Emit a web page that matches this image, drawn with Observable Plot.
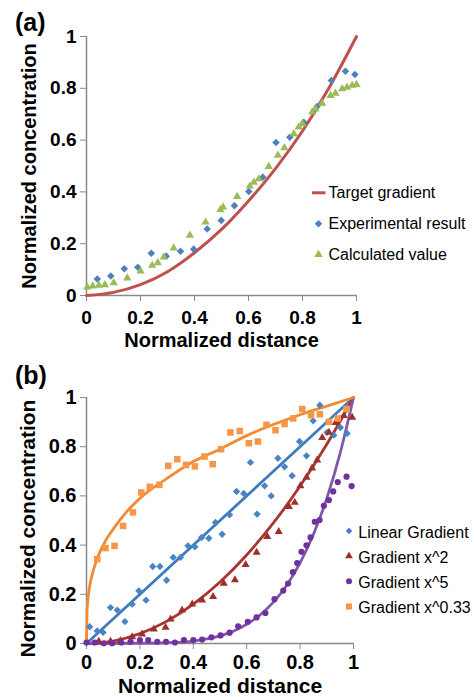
<!DOCTYPE html>
<html><head><meta charset="utf-8">
<script src="https://cdn.jsdelivr.net/npm/d3@7"></script>
<script src="https://cdn.jsdelivr.net/npm/@observablehq/plot@0.6"></script>
<style>
html,body{margin:0;padding:0;background:#fff;}
#fig{position:relative;width:474px;height:697px;overflow:hidden;font-family:"Liberation Sans",Arial,sans-serif;}
.panel{position:absolute;left:0;}
.tag{position:absolute;font-weight:bold;font-size:25px;line-height:25px;color:#000;}
.legend{position:absolute;left:0;top:0;pointer-events:none;}
#fig g[aria-label="x-axis tick"], #fig g[aria-label="y-axis tick"]{stroke:#8a8a8a;}
</style></head><body><div id="fig"></div>
<script>
// ---------- Panel (a) data ----------
const tickValues = [0, 0.2, 0.4, 0.6, 0.8, 1];
const axisTitleX = "Normalized distance";
const axisTitleY = "Normalized concentration";

const targetX = [0, 0.1, 0.2, 0.3, 0.4, 0.5, 0.6, 0.7, 0.8, 0.9, 1];
const targetY = [0, 0.012, 0.042, 0.092, 0.165, 0.255, 0.365, 0.49, 0.635, 0.805, 1];

const expX = [0.04, 0.09, 0.14, 0.19, 0.24, 0.295, 0.348, 0.397, 0.447, 0.499, 0.548, 0.601, 0.653, 0.702, 0.753, 0.805, 0.854, 0.907, 0.959, 0.994];
const expY = [0.064, 0.075, 0.103, 0.109, 0.163, 0.152, 0.171, 0.179, 0.257, 0.29, 0.347, 0.402, 0.457, 0.591, 0.611, 0.669, 0.73, 0.83, 0.866, 0.853];

const calcX = [0.003, 0.023, 0.046, 0.068, 0.101, 0.151, 0.2, 0.243, 0.264, 0.286, 0.323, 0.383, 0.441, 0.496, 0.506, 0.558, 0.605, 0.62, 0.638, 0.675, 0.709, 0.733, 0.768, 0.786, 0.8, 0.836, 0.848, 0.873, 0.904, 0.922, 0.947, 0.965, 0.984, 1.0];
const calcY = [0.032, 0.036, 0.039, 0.041, 0.049, 0.067, 0.094, 0.116, 0.126, 0.148, 0.183, 0.232, 0.283, 0.331, 0.341, 0.382, 0.422, 0.437, 0.45, 0.498, 0.541, 0.57, 0.624, 0.65, 0.663, 0.708, 0.721, 0.742, 0.772, 0.781, 0.798, 0.804, 0.811, 0.814];

const legendA = ["Target gradient", "Experimental result", "Calculated value"];

// ---------- Panel (b) data ----------
const linX = [0.012, 0.04, 0.062, 0.09, 0.115, 0.144, 0.171, 0.196, 0.223, 0.248, 0.275, 0.3, 0.325, 0.352, 0.38, 0.406, 0.431, 0.458, 0.483, 0.508, 0.536, 0.562, 0.589, 0.614, 0.639, 0.667, 0.692, 0.717, 0.742, 0.77, 0.798, 0.824, 0.849, 0.874, 0.901, 0.926, 0.951, 0.976];
const linY = [0.068, 0.051, 0.045, 0.146, 0.136, 0.089, 0.16, 0.214, 0.176, 0.313, 0.313, 0.257, 0.35, 0.35, 0.397, 0.393, 0.431, 0.428, 0.492, 0.444, 0.523, 0.618, 0.61, 0.736, 0.526, 0.641, 0.6, 0.753, 0.718, 0.682, 0.821, 0.763, 0.905, 0.969, 0.858, 0.847, 0.878, 0.854];

const sqX = [0.046, 0.09, 0.127, 0.171, 0.208, 0.252, 0.296, 0.315, 0.358, 0.396, 0.433, 0.474, 0.514, 0.556, 0.596, 0.637, 0.677, 0.72, 0.758, 0.78, 0.801, 0.824, 0.845, 0.864, 0.883, 0.908, 0.933, 0.964, 0.995];
const sqY = [0.008, 0.008, 0.011, 0.027, 0.038, 0.058, 0.065, 0.099, 0.136, 0.16, 0.176, 0.19, 0.244, 0.258, 0.32, 0.37, 0.434, 0.455, 0.556, 0.573, 0.641, 0.675, 0.713, 0.745, 0.837, 0.858, 0.898, 0.926, 0.919];

const p5X = [0.0, 0.031, 0.065, 0.096, 0.13, 0.165, 0.2, 0.231, 0.265, 0.298, 0.331, 0.365, 0.4, 0.433, 0.468, 0.502, 0.536, 0.568, 0.604, 0.637, 0.67, 0.704, 0.737, 0.755, 0.773, 0.789, 0.805, 0.824, 0.839, 0.855, 0.873, 0.889, 0.908, 0.924, 0.941, 0.974, 0.993];
const p5Y = [0.004, 0.004, 0.001, 0.001, 0.004, 0.007, 0.014, 0.014, 0.007, 0.007, 0.004, 0.014, 0.014, 0.016, 0.025, 0.033, 0.044, 0.07, 0.088, 0.106, 0.124, 0.18, 0.215, 0.244, 0.29, 0.327, 0.373, 0.399, 0.431, 0.495, 0.502, 0.56, 0.583, 0.618, 0.656, 0.678, 0.64];

const cbX = [0.04, 0.071, 0.105, 0.137, 0.174, 0.205, 0.237, 0.273, 0.306, 0.34, 0.373, 0.406, 0.442, 0.473, 0.504, 0.539, 0.574, 0.608, 0.642, 0.674, 0.708, 0.742, 0.774, 0.808, 0.841, 0.874, 0.908, 0.941, 0.974];
const cbY = [0.343, 0.388, 0.397, 0.478, 0.533, 0.614, 0.637, 0.645, 0.722, 0.749, 0.726, 0.72, 0.76, 0.729, 0.79, 0.858, 0.864, 0.814, 0.821, 0.889, 0.867, 0.892, 0.915, 0.953, 0.928, 0.932, 0.901, 0.915, 0.953];

const linLineX = [0, 1];
const linLineY = [0, 1];
const sqLineX = [0, 0.1, 0.2, 0.3, 0.4, 0.5, 0.6, 0.7, 0.8, 0.9, 1];
const sqLineY = [0, 0.01, 0.04, 0.09, 0.16, 0.25, 0.36, 0.49, 0.64, 0.81, 1];
const p5LineX = [0, 0.2, 0.3, 0.4, 0.5, 0.55, 0.6, 0.65, 0.7, 0.75, 0.8, 0.85, 0.9, 0.95, 1];
const p5LineY = [0, 0.001, 0.003, 0.01, 0.031, 0.05, 0.078, 0.116, 0.168, 0.237, 0.328, 0.444, 0.59, 0.774, 1];
const cbLineX = [0, 0.002, 0.005, 0.01, 0.02, 0.04, 0.07, 0.1, 0.15, 0.2, 0.3, 0.4, 0.5, 0.6, 0.7, 0.8, 0.9, 1];
const cbLineY = [0, 0.13, 0.175, 0.22, 0.275, 0.345, 0.415, 0.465, 0.535, 0.59, 0.67, 0.74, 0.79, 0.845, 0.89, 0.93, 0.965, 1];

const legendB = ["Linear Gradient", "Gradient x^2", "Gradient x^5", "Gradient x^0.33"];

// ---------- helpers ----------
const zip = (xs, ys) => xs.map((x, i) => ({x, y: ys[i]}));
const fmt = d3.format("~g");
const FONT = '"Liberation Sans", Arial, sans-serif';
const AXIS_GRAY = "#8a8a8a";

const C = {
  target: "#C0504D", exp: "#4F81BD", calc: "#9BBB59",
  lin: "#4A84C4", linLine: "#3F7BBD",
  sq: "#9E2F2B", sqLine: "#A8352F",
  p5: "#7030A0", p5Line: "#7C5AA8",
  cb: "#F79646", cbLine: "#F08A36"
};

function frameMarks(opt) {
  return [
    Plot.ruleX([0], {stroke: AXIS_GRAY, strokeWidth: 1.5}),
    Plot.ruleY([0], {stroke: AXIS_GRAY, strokeWidth: 1.5}),
    Plot.axisX({ticks: tickValues, tickFormat: fmt, tickSize: 6, tickPadding: opt.xPad, label: null, fontSize: opt.tickFont}),
    Plot.axisY({ticks: tickValues, tickFormat: fmt, tickSize: 6, tickPadding: 4, label: null, fontSize: opt.tickFont}),
    Plot.text([axisTitleX], {text: d => d, frameAnchor: "bottom", textAnchor: "middle", lineAnchor: "bottom", dy: opt.xLabDy, fontSize: opt.labFont, fontWeight: "bold", fill: "#000"}),
    Plot.text([axisTitleY], {text: d => d, frameAnchor: "left", textAnchor: "middle", lineAnchor: "top", rotate: -90, dx: opt.yLabDx, dy: opt.yLabDy, fontSize: opt.labFont, fontWeight: "bold", fill: "#000"})
  ];
}

const fig = document.getElementById("fig");

// ---------- Panel (a) ----------
const plotA = Plot.plot({
  width: 474, height: 350,
  marginLeft: 86, marginRight: 118, marginTop: 36, marginBottom: 55,
  x: {domain: [0, 1]}, y: {domain: [0, 1]},
  style: {fontFamily: FONT, fontWeight: "bold", color: "#000", background: "transparent", overflow: "visible"},
  marks: [
    ...frameMarks({xPad: 8.5, tickFont: 19, labFont: 20, xLabDy: 51, yLabDx: -64.5, yLabDy: 0}),
    Plot.line(zip(targetX, targetY), {x: "x", y: "y", stroke: C.target, strokeWidth: 3, curve: "monotone-x"}),
    Plot.dot(zip(expX, expY), {x: "x", y: "y", symbol: "diamond2", r: 3.4, fill: C.exp, stroke: "none"}),
    Plot.dot(zip(calcX, calcY), {x: "x", y: "y", symbol: "triangle", r: 3.1, fill: C.calc, stroke: "none"})
  ]
});
plotA.classList.add("panel");
plotA.style.top = "0px";
fig.appendChild(plotA);

// ---------- Panel (b) ----------
const plotB = Plot.plot({
  width: 474, height: 347,
  marginLeft: 86, marginRight: 121, marginTop: 47, marginBottom: 54,
  x: {domain: [0, 1]}, y: {domain: [0, 1]},
  style: {fontFamily: FONT, fontWeight: "bold", color: "#000", background: "transparent", overflow: "visible"},
  marks: [
    ...frameMarks({xPad: 5.5, tickFont: 20, labFont: 21, xLabDy: 49.5, yLabDx: -66, yLabDy: 8}),
    Plot.line(zip(linLineX, linLineY), {x: "x", y: "y", stroke: C.linLine, strokeWidth: 2.8}),
    Plot.line(zip(sqLineX, sqLineY), {x: "x", y: "y", stroke: C.sqLine, strokeWidth: 2.8, curve: "monotone-x"}),
    Plot.line(zip(p5LineX, p5LineY), {x: "x", y: "y", stroke: C.p5Line, strokeWidth: 2.8, curve: "monotone-x"}),
    Plot.line(zip(cbLineX, cbLineY), {x: "x", y: "y", stroke: C.cbLine, strokeWidth: 2.8, curve: "monotone-x"}),
    Plot.dot(zip(linX, linY), {x: "x", y: "y", symbol: "diamond2", r: 3.3, fill: C.lin, stroke: "none"}),
    Plot.dot(zip(sqX, sqY), {x: "x", y: "y", symbol: "triangle", r: 3.0, fill: C.sq, stroke: "none"}),
    Plot.dot(zip(p5X, p5Y), {x: "x", y: "y", symbol: "circle", r: 3.1, fill: C.p5, stroke: "none"}),
    Plot.dot(zip(cbX, cbY), {x: "x", y: "y", symbol: "square", r: 3.7, fill: C.cb, stroke: "none"})
  ]
});
plotB.classList.add("panel");
plotB.style.top = "350px";
fig.appendChild(plotB);

// ---------- Panel tags ----------
[["(a)", 10], ["(b)", 363]].forEach(([t, top]) => {
  const d = document.createElement("div");
  d.className = "tag";
  d.textContent = t;
  d.style.left = "15px";
  d.style.top = top + "px";
  fig.appendChild(d);
});

// ---------- Legends ----------
const leg = d3.select(fig).append("svg").attr("class", "legend").attr("width", 474).attr("height", 697)
  .style("font-family", FONT).style("font-size", "16px");
const sym = (type, r) => d3.symbol(type, Math.PI * r * r)();

const legA = [
  {kind: "line", color: C.target},
  {kind: d3.symbolDiamond2, r: 3.4, color: C.exp},
  {kind: d3.symbolTriangle, r: 3.1, color: C.calc}
];
legendA.forEach((name, i) => {
  const base = 198.3 + 30.85 * i, cy = base - 5.5;
  const s = legA[i];
  if (s.kind === "line") {
    leg.append("line").attr("x1", 312).attr("x2", 325.5).attr("y1", cy).attr("y2", cy)
      .attr("stroke", s.color).attr("stroke-width", 3);
  } else {
    leg.append("path").attr("d", sym(s.kind, s.r)).attr("transform", `translate(318.5,${cy})`).attr("fill", s.color);
  }
  leg.append("text").attr("x", 328.5).attr("y", base).attr("fill", "#000").text(name);
});

const legB = [
  {kind: d3.symbolDiamond2, r: 3.0, color: C.lin},
  {kind: d3.symbolTriangle, r: 2.9, color: C.sq},
  {kind: d3.symbolCircle, r: 3.0, color: C.p5},
  {kind: d3.symbolSquare, r: 3.4, color: C.cb}
];
legendB.forEach((name, i) => {
  const base = 537.7 + 25.2 * i, cy = base - 6.8;
  const s = legB[i];
  leg.append("path").attr("d", sym(s.kind, s.r)).attr("transform", `translate(349,${cy})`).attr("fill", s.color);
  leg.append("text").attr("x", 358.3).attr("y", base).attr("fill", "#000").text(name);
});
</script></body></html>
